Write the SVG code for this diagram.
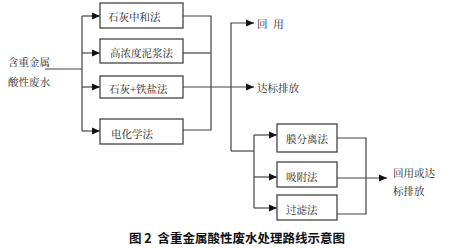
<svg xmlns="http://www.w3.org/2000/svg" width="461" height="248" viewBox="0 0 461 248">
<style>
.box{fill:#fff;stroke:#444;stroke-width:1.3}
.ln{fill:none;stroke:#444;stroke-width:1.2}
.t{font-family:"Noto Serif CJK SC","Noto Sans CJK SC",serif;font-size:10.5px;fill:#222;dominant-baseline:central}
.cap{font-family:"Noto Sans CJK SC",sans-serif;font-size:12.5px;font-weight:bold;fill:#111;dominant-baseline:central}
</style>
<defs>
<marker id="ah" markerWidth="8" markerHeight="8" refX="8" refY="4" orient="auto" markerUnits="userSpaceOnUse">
<path d="M0,0.5 L8,4 L0,7.5 Z" fill="#111"/>
</marker>
</defs>
<rect width="461" height="248" fill="#fff"/>
<g id="connectors">
<path class="ln" d="M45,69 H82"/>
<path class="ln" d="M82,16 V131"/>
<path class="ln" d="M82,16 H100" marker-end="url(#ah)"/>
<path class="ln" d="M82,53 H100" marker-end="url(#ah)"/>
<path class="ln" d="M82,87 H100" marker-end="url(#ah)"/>
<path class="ln" d="M82,131 H100" marker-end="url(#ah)"/>
<path class="ln" d="M183,16 H211 V130 H183"/>
<path class="ln" d="M183,53 H211"/>
<path class="ln" d="M183,87 H254" marker-end="url(#ah)"/>
<path class="ln" d="M231,151 V23 H254" marker-end="url(#ah)"/>
<path class="ln" d="M231,151 H254"/>
<path class="ln" d="M254,135 V208"/>
<path class="ln" d="M254,135 H277" marker-end="url(#ah)"/>
<path class="ln" d="M254,177 H277" marker-end="url(#ah)"/>
<path class="ln" d="M254,208 H277" marker-end="url(#ah)"/>
<path class="ln" d="M337,138 H366 V214 H337"/>
<path class="ln" d="M337,178 H387" marker-end="url(#ah)"/>
</g>
<g id="input">
<text class="t" x="8" y="61">含重金属</text>
<text class="t" x="8" y="81">酸性废水</text>
</g>
<g id="n1"><rect class="box" x="100" y="3" width="83" height="25"/><text class="t" x="108" y="16">石灰中和法</text></g>
<g id="n2"><rect class="box" x="100" y="39" width="83" height="24"/><text class="t" x="110" y="52">高浓度泥浆法</text></g>
<g id="n3"><rect class="box" x="100" y="76" width="83" height="22"/><text class="t" x="109" y="88">石灰+铁盐法</text></g>
<g id="n4"><rect class="box" x="100" y="119" width="83" height="25"/><text class="t" x="111" y="133">电化学法</text></g>
<g id="reuse"><text class="t" x="257" y="23" letter-spacing="1.5">回 用</text></g>
<g id="discharge"><text class="t" x="257" y="87">达标排放</text></g>
<g id="m1"><rect class="box" x="277" y="124" width="60" height="28"/><text class="t" x="286" y="138">膜分离法</text></g>
<g id="m2"><rect class="box" x="277" y="162" width="60" height="25"/><text class="t" x="286" y="176">吸附法</text></g>
<g id="m3"><rect class="box" x="277" y="195" width="60" height="25"/><text class="t" x="286" y="209">过滤法</text></g>
<g id="output">
<text class="t" x="393" y="172">回用或达</text>
<text class="t" x="393" y="190">标排放</text>
</g>
<text class="cap" x="129" y="237" xml:space="preserve">图 2  含重金属酸性废水处理路线示意图</text>
</svg>
